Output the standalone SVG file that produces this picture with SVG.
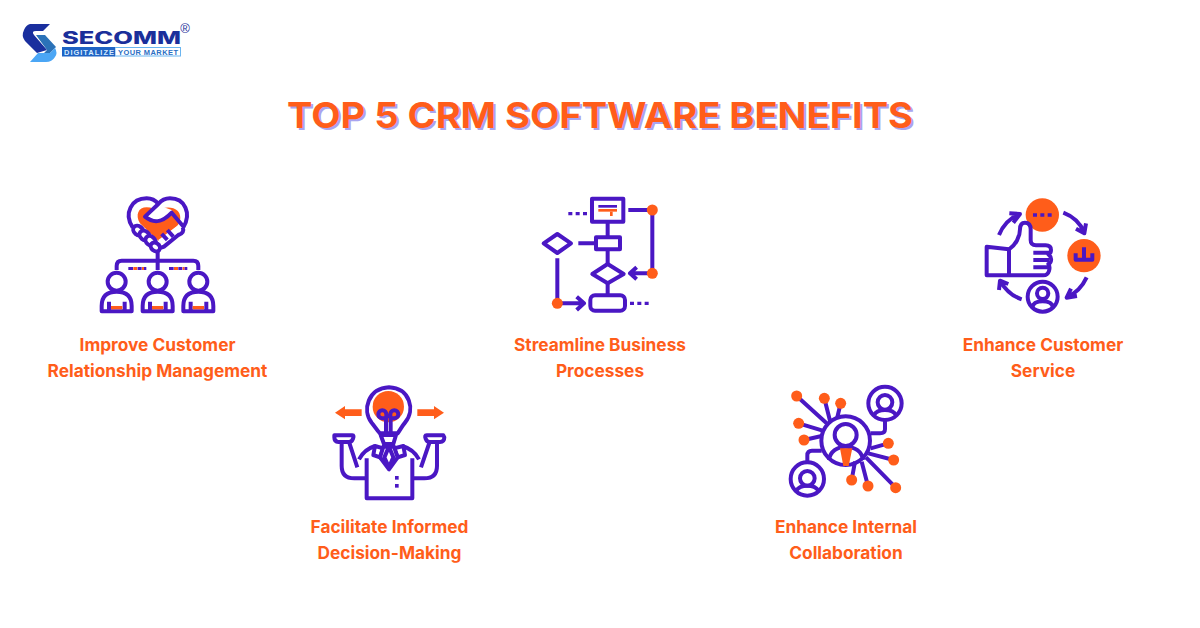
<svg xmlns="http://www.w3.org/2000/svg" width="1200" height="628" viewBox="0 0 1200 628">
<style>
.l{fill:none;stroke:#4a17c4;stroke-width:12;stroke-linejoin:round}
.lw{fill:#fff;stroke:#4a17c4;stroke-width:12;stroke-linejoin:round}
.o{fill:#ff5d1a}
.p{fill:#4a17c4}
.lab{font-family:"Inter","Liberation Sans",sans-serif;font-weight:700;font-size:17.3px;fill:#ff5d1a;text-anchor:middle}
.ttl{font-family:"Inter","Liberation Sans",sans-serif;font-weight:700;font-size:35.500px}
.d{fill:none;stroke:#4a17c4;stroke-width:10;stroke-dasharray:12 10}
</style>
<rect width="1200" height="628" fill="#fff"/>

<g id="logo">
<path d="M30 24H50L43 31H36Q31 31 34 35L47 50L37 53L25 41Q21 36 24 30Q26 25 30 24Z" fill="#1a2f9e"/>
<path d="M36 35H45L56 47L50 53H44L47 50Z" fill="#2b72b8"/>
<path d="M38 53H50L55 48Q58 53 55 57Q52 62 46 62H30Z" fill="#4ba6f5"/>
<text x="62" y="44" font-family="Inter,'Liberation Sans',sans-serif" font-weight="800" font-size="17" fill="#1b2f9a" textLength="119" lengthAdjust="spacingAndGlyphs">SECOMM</text>
<text x="185" y="33" font-family="'Liberation Sans',sans-serif" font-size="13" fill="#1b2f9a" text-anchor="middle">®</text>
<rect x="115" y="47.500" width="65.500" height="8.500" fill="#fff" stroke="#6ab5f0"/>
<rect x="62" y="47" width="53" height="9.500" fill="#1f63c4"/>
<text x="64" y="55" font-family="'Liberation Sans',sans-serif" font-weight="700" font-size="7.500" fill="#d6ecff" textLength="50">DIGITALIZE</text>
<text x="118" y="55" font-family="'Liberation Sans',sans-serif" font-weight="700" font-size="7.500" fill="#2a6fc4" textLength="60">YOUR MARKET</text>
</g>

<g id="title">
<text class="ttl" x="289" y="130" fill="#a9a4f0" textLength="626" lengthAdjust="spacingAndGlyphs">TOP 5 CRM SOFTWARE BENEFITS</text>
<text class="ttl" x="287" y="128" fill="#ff5d1a" textLength="626" lengthAdjust="spacingAndGlyphs">TOP 5 CRM SOFTWARE BENEFITS</text>
</g>

<g id="node-relationship">
<g transform="translate(90 190) scale(.3333)">
<path class="o" d="M205 152L150 100C135 75 145 52 170 52C185 52 195 58 200 65C215 52 235 50 250 55C272 62 278 88 262 108Z"/>
<path class="l" d="M128 112C100 70 125 25 170 25C185 25 197 32 205 42C215 30 228 25 240 25C285 25 305 70 280 112"/>
<path d="M205 46L245 60L250 72L230 85L200 92L170 80Z" fill="#fff"/>
<path d="M205 150L265 105L282 115L225 172Z" fill="#fff"/>
<path class="l" d="M205 42L165 80C190 100 215 100 245 68L282 112"/>
<path class="l" d="M278 112Q285 128 265 135L222 170Q205 178 205 160"/>
<path class="l" d="M215 132L232 150M232 120L250 140"/>
<ellipse class="lw" cx="145" cy="122" rx="17" ry="13" transform="rotate(40 145 122)"/>
<ellipse class="lw" cx="164" cy="137" rx="17" ry="13" transform="rotate(40 164 137)"/>
<ellipse class="lw" cx="182" cy="153" rx="17" ry="13" transform="rotate(40 182 153)"/>
<ellipse class="lw" cx="196" cy="171" rx="15" ry="12" transform="rotate(40 196 171)"/>
<path class="l" d="M203 182V240M80 240V228Q80 212 95 212H310Q325 212 325 228V240"/>
<g><rect class="p" x="115" y="231" width="14" height="9"/><rect class="o" x="130" y="231" width="12" height="9"/><rect class="p" x="143" y="231" width="12" height="9"/><rect class="o" x="156" y="231" width="6" height="9"/><rect class="p" x="162" y="231" width="7" height="9"/></g>
<g><rect class="p" x="237" y="231" width="14" height="9"/><rect class="o" x="252" y="231" width="12" height="9"/><rect class="p" x="265" y="231" width="12" height="9"/><rect class="o" x="278" y="231" width="6" height="9"/><rect class="p" x="284" y="231" width="8" height="9"/></g>
<g><circle class="l" cx="80" cy="275" r="27"/><path class="l" d="M35 364V348Q35 305 80 305Q125 305 125 348V364ZM57 335V364M104 335V364"/><rect class="o" x="63" y="348" width="34" height="10"/></g>
<g transform="translate(123 0)"><circle class="l" cx="80" cy="275" r="27"/><path class="l" d="M35 364V348Q35 305 80 305Q125 305 125 348V364ZM57 335V364M104 335V364"/><rect class="o" x="63" y="348" width="34" height="10"/></g>
<g transform="translate(245 0)"><circle class="l" cx="80" cy="275" r="27"/><path class="l" d="M35 364V348Q35 305 80 305Q125 305 125 348V364ZM57 335V364M104 335V364"/><rect class="o" x="63" y="348" width="34" height="10"/></g>
</g>
<text class="lab" x="157.500" y="351">Improve Customer</text>
<text class="lab" x="157.500" y="377">Relationship Management</text>
</g>

<g id="node-processes">
<g transform="translate(535 190) scale(.3333)">
<rect class="l" x="171" y="26" width="94" height="69"/>
<rect class="p" x="190" y="45" width="56" height="8"/>
<rect class="o" x="190" y="57" width="56" height="8"/>
<rect class="o" x="225" y="65" width="8" height="13"/>
<path class="d" d="M100 71H160"/>
<path class="l" d="M280 60H352V250H285M305 232L285 250L305 268"/>
<path class="l" d="M218 95V142M130 160H183M218 178V222M218 280V316M67 205V340H145M125 320L147 340L125 360"/>
<rect class="l" x="183" y="142" width="72" height="36"/>
<path class="l" d="M67 132L108 160L67 189L26 160Z"/>
<path class="l" d="M218 222L266 252L218 280L172 252Z"/>
<rect class="l" x="166" y="316" width="104" height="46" rx="14"/>
<path class="d" d="M285 340H345"/>
<circle class="o" cx="352" cy="60" r="16.500"/>
<circle class="o" cx="352" cy="250" r="16.500"/>
<circle class="o" cx="67" cy="340" r="16.500"/>
</g>
<text class="lab" x="600" y="351">Streamline Business</text>
<text class="lab" x="600" y="377">Processes</text>
</g>

<g id="node-service">
<g transform="translate(975 190) scale(.3333)">
<circle class="o" cx="202" cy="75" r="50"/>
<circle class="o" cx="327" cy="197" r="50"/>
<path class="d" d="M174 75H234"/>
<path class="l" d="M302 190V209H352V190M327 172V209"/>
<path class="l" d="M265 68Q310 85 328 128M333 100L328 130L303 116"/>
<path class="l" d="M335 262Q315 305 275 322M306 318L275 323L288 296"/>
<path class="l" d="M140 328Q100 315 75 272M72 300L75 272L100 282"/>
<path class="l" d="M72 135Q90 90 133 72M103 70L135 72L115 98"/>
<path class="lw" d="M35 170L102 178C122 165 135 140 135 118Q135 98 150 98Q167 98 167 118V150Q167 166 183 166H212Q228 166 228 180Q228 190 220 193Q230 200 228 212Q226 220 220 222Q226 230 222 243Q218 256 205 256H35Z"/>
<path class="l" d="M102 178V256M175 188H222M175 210H222M175 232H222"/>
<circle class="l" cx="203" cy="320" r="45"/>
<circle class="l" cx="203" cy="310" r="17"/>
<path class="l" d="M172 352Q175 334 203 334Q231 334 234 352"/>
</g>
<text class="lab" x="1043" y="351">Enhance Customer</text>
<text class="lab" x="1043" y="377">Service</text>
</g>

<g id="node-decision">
<g transform="translate(325 380) scale(.3333)">
<path class="o" d="M30 98L60 78V88H110V108H60V118Z"/>
<path class="o" d="M357 98L327 78V88H277V108H327V118Z"/>
<circle class="o" cx="190" cy="80" r="47"/>
<path class="l" d="M165 160C155 150 150 140 140 128C110 90 130 25 192 22C255 25 272 90 240 128C230 140 225 150 218 160Z"/>
<path class="l" d="M183 162V115H172A12 12 0 1 1 184 103V115M197 162V115H208A12 12 0 1 0 196 103V115"/>
<path class="lw" d="M167 165H213L205 192H177Z"/>
<path class="lw" d="M28 166H82Q88 166 84 176Q80 186 72 186H40Q28 186 28 172ZM355 166H305Q298 166 302 176Q306 186 314 186H345Q358 186 358 172Z"/>
<path class="l" d="M72 186L97 262M50 188V258Q50 295 88 295H125M314 186L288 262M336 188V258Q336 295 298 295H262"/>
<path class="l" d="M125 235V355H262V235M102 238Q118 208 150 198M282 238Q266 208 232 198"/>
<path class="lw" d="M150 198L175 205L165 232L145 225Z"/>
<path class="lw" d="M235 198L207 205L218 232L240 225Z"/>
<path class="lw" d="M175 200H207L218 232L192 268L165 232Z"/>
<path class="l" d="M192 200L178 232L192 262L205 232Z"/>
<rect class="p" x="210" y="288" width="11" height="11"/>
<rect class="p" x="210" y="312" width="11" height="11"/>
</g>
<text class="lab" x="389.500" y="533">Facilitate Informed</text>
<text class="lab" x="389.500" y="559">Decision-Making</text>
</g>

<g id="node-collaboration">
<g transform="translate(780 380) scale(.3333)">
<path class="l" d="M50 48L140 130M133 55L150 122M182 70L172 112M56 130L128 152M72 180L125 168M325 190L272 205M341 240L265 220M215 300L225 245M264 318L245 245M347 323L258 232"/>
<path class="l" d="M315 120V148Q315 160 300 160H272M82 247V226Q82 212 96 212H125"/>
<circle class="l" cx="197" cy="182" r="73"/>
<circle class="l" cx="197" cy="165" r="33"/>
<path class="l" d="M147 240C150 215 172 200 197 200C225 200 245 215 250 240"/>
<path class="o" d="M180 205H217L206 258H190Z"/>
<circle class="l" cx="315" cy="70" r="50"/><circle class="l" cx="315" cy="67" r="22"/><path class="l" d="M282 105Q290 90 315 90Q340 90 348 105"/>
<circle class="l" cx="82" cy="297" r="50"/><circle class="l" cx="82" cy="295" r="22"/><path class="l" d="M49 332Q57 317 82 317Q107 317 115 332"/>
<g class="o"><circle cx="50" cy="48" r="16.500"/><circle cx="133" cy="55" r="16.500"/><circle cx="182" cy="70" r="16.500"/><circle cx="56" cy="130" r="16.500"/><circle cx="72" cy="180" r="16.500"/><circle cx="325" cy="190" r="16.500"/><circle cx="341" cy="240" r="16.500"/><circle cx="215" cy="300" r="16.500"/><circle cx="264" cy="318" r="16.500"/><circle cx="347" cy="323" r="16.500"/></g>
</g>
<text class="lab" x="846" y="533">Enhance Internal</text>
<text class="lab" x="846" y="559">Collaboration</text>
</g>
</svg>
